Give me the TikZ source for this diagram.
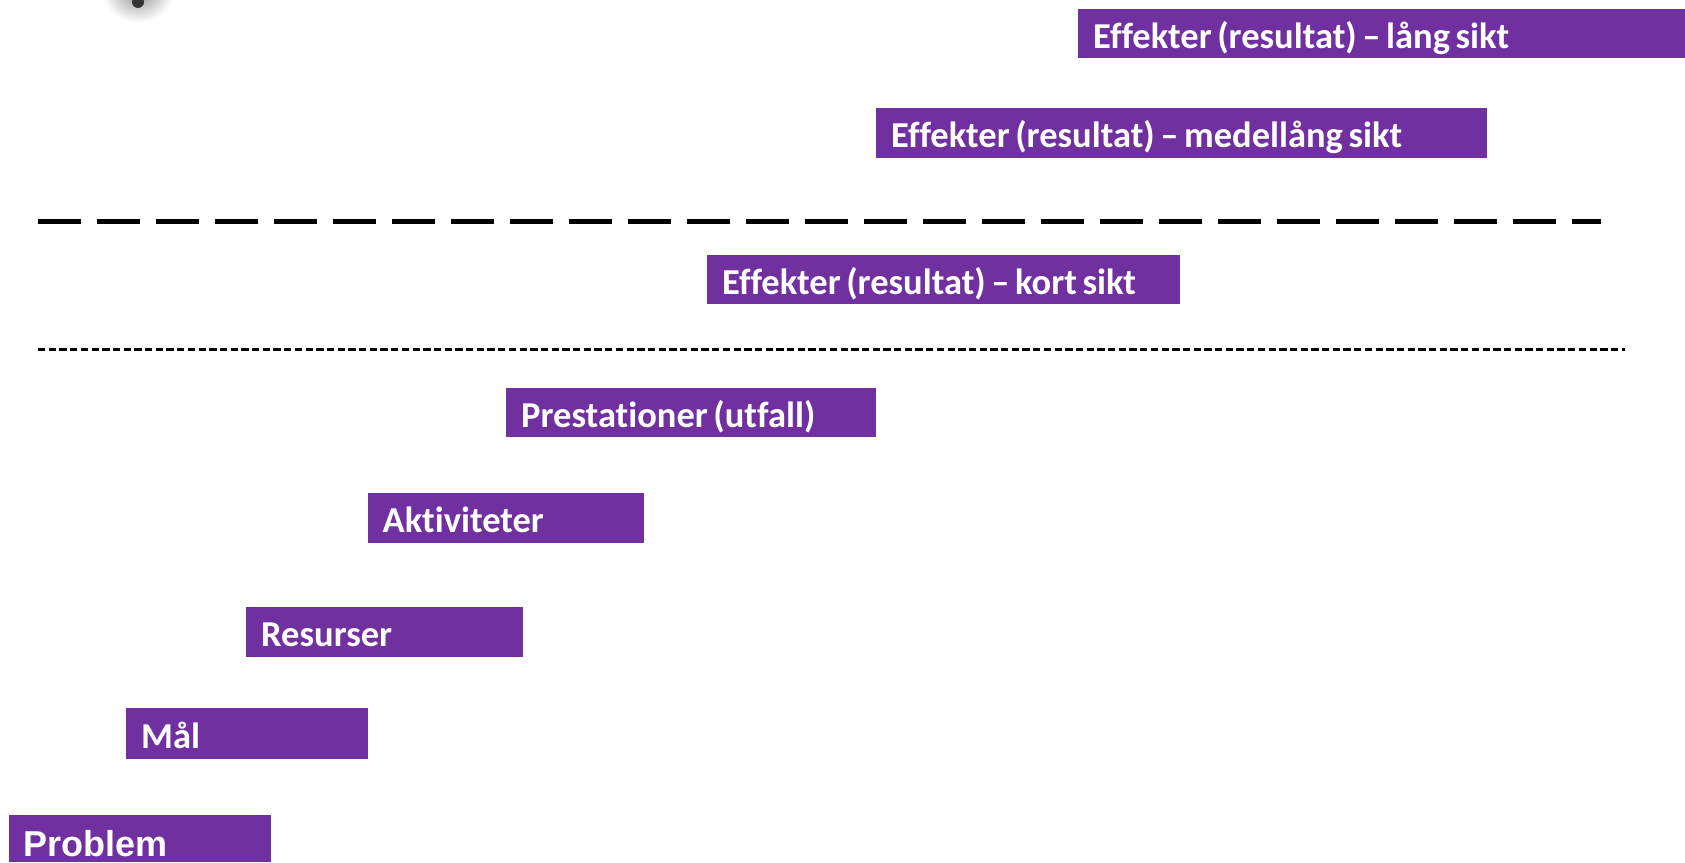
\documentclass[tikz,border=0pt]{standalone}
\usepackage{fontspec}
\setmainfont{Carlito}[Ligatures=NoCommon]
\newfontfamily\arialfont{Liberation Sans}
\usepackage{xcolor}
\definecolor{lilac}{HTML}{7030A0}

\begin{document}
\begin{tikzpicture}[x=1pt,y=-1pt]
                \useasboundingbox (0,0) rectangle (1685,862);
                \begin{scope}
                    \clip (0,0) rectangle (1685,862);
                    \shade[inner color=black!45, outer color=white] (138,-10) ellipse (36 and 33);
                    \fill[black!80] (138,2) circle (6);
                \end{scope}

                \draw[line width=5pt, dash pattern=on 43pt off 16pt] (38,221) -- (1601,221);
                \draw[line width=3pt, dash pattern=on 7.3pt off 3.4pt] (38,349) -- (1625,349);

                \begin{scope}[every node/.style = {anchor=north west, fill=lilac, text=white,
                                  font=\bfseries\fontsize{36.5}{37}\selectfont, align=left,
                                  execute at begin node={\spaceskip=5.6pt\relax\xspaceskip=5.6pt\relax},
                                  inner xsep=15pt, inner ysep=0pt, text height=29pt, text depth=0pt}]
                    \node[minimum height=49pt,   text width=577pt]   (lang)   at (1078,9)     {Effekter (resultat) – lång sikt};
                    \node[minimum height=50.5pt, text width=581pt]   (medel)  at (876,107.5)  {Effekter (resultat) – medellång sikt};
                    \node[minimum height=49pt,   text width=443pt]   (kort)   at (707,255)    {Effekter (resultat) – kort sikt};
                    \node[minimum height=49pt,   text width=340pt]   (prest)  at (506,388)    {Prestationer (utfall)};
                    \node[minimum height=50pt,   text width=246.5pt] (aktiv)  at (367.5,493)  {Aktiviteter};
                    \node[minimum height=50pt,   text width=247pt]   (resurs) at (246,607)    {Resurser};
                    \node[minimum height=51pt,   text width=211.5pt] (mal)    at (126,708)    {Mål};
                    \node[minimum height=47pt,   text width=232pt, text height=35pt,
                          font=\arialfont\bfseries\fontsize{36}{36}\selectfont] (problem) at (8.6,815) {Problem};
                \end{scope}
            \end{tikzpicture}
\end{document}
